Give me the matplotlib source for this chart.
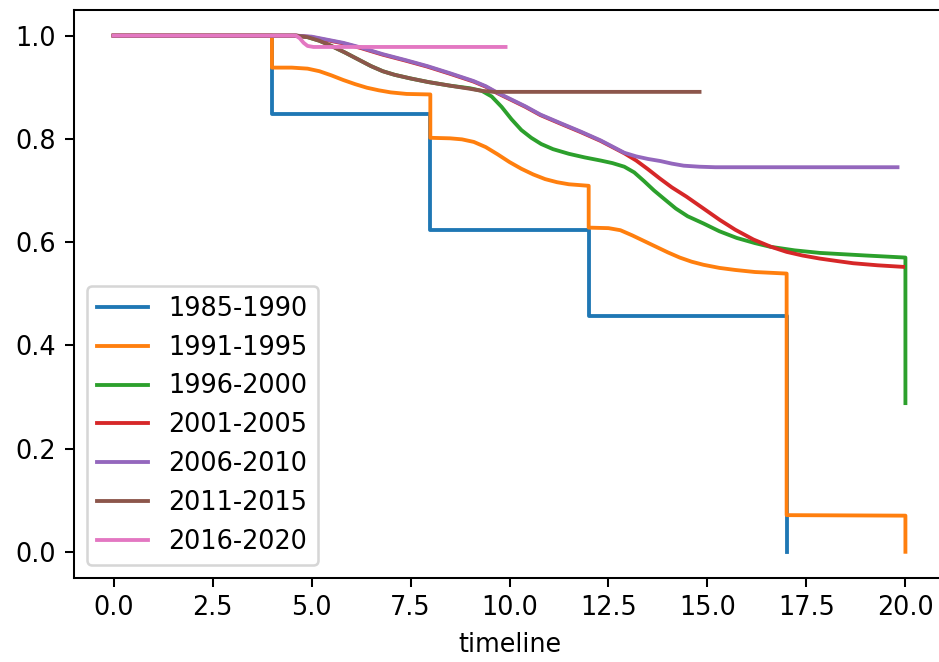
#! usr/bin/env python3
# coding:utf-8

import matplotlib
matplotlib.use('Agg')
import matplotlib.pyplot as plt

labels = ['1985-1990', '1991-1995', '1996-2000', '2001-2005',
          '2006-2010', '2011-2015', '2016-2020']

t_1985 = [0, 4, 4, 8, 8, 12, 12, 17, 17]
s_1985 = [1.0, 1.0, 0.848, 0.848, 0.623, 0.623, 0.456, 0.456, 0.0]

t_1991 = [0, 4, 4, 4.5, 4.9, 5.2, 5.5, 5.8, 6.1, 6.4, 6.7, 7.0, 7.4, 8.0,
          8.0, 8.5, 8.8, 9.1, 9.4, 9.7, 10.0, 10.3, 10.6, 10.9, 11.2, 11.5,
          12.0, 12.0, 12.5, 12.8, 13.1, 13.4, 13.7, 14.0, 14.3, 14.6, 14.9,
          15.3, 15.7, 16.2, 17.0, 17.0, 20.0, 20.0]
s_1991 = [1.0, 1.0, 0.938, 0.938, 0.936, 0.931, 0.923, 0.914, 0.906, 0.899,
          0.894, 0.890, 0.887, 0.886,
          0.802, 0.801, 0.799, 0.794, 0.784, 0.770, 0.755, 0.742, 0.731,
          0.722, 0.716, 0.712, 0.709,
          0.628, 0.627, 0.623, 0.613, 0.602, 0.591, 0.580, 0.570, 0.562,
          0.556, 0.550, 0.546, 0.542, 0.539, 0.071, 0.070, 0.0]

t_1996 = [0, 4.6, 4.9, 5.2, 5.5, 5.85, 6.2, 6.5, 6.8, 7.1, 7.5, 7.95, 8.5,
          9.0, 9.3, 9.55, 9.8, 10.05, 10.3, 10.55, 10.8, 11.1, 11.5, 11.9,
          12.3, 12.6, 12.9, 13.15, 13.4, 13.65, 13.9, 14.2, 14.5, 14.9, 15.3,
          15.74, 16.2, 16.58, 17.2, 17.84, 19.0, 20.0, 20.0]
s_1996 = [1.0, 1.0, 0.997, 0.990, 0.980, 0.967, 0.953, 0.941, 0.931, 0.924,
          0.917, 0.910, 0.903, 0.898, 0.893, 0.882, 0.862, 0.838, 0.817,
          0.802, 0.790, 0.780, 0.771, 0.764, 0.758, 0.753, 0.746, 0.735,
          0.718, 0.700, 0.684, 0.665, 0.650, 0.636, 0.621, 0.608, 0.598,
          0.591, 0.584, 0.579, 0.574, 0.570, 0.288]

t_2001 = [0, 4.6, 5.0, 5.4, 5.8, 6.24, 6.8, 7.4, 7.92, 8.5, 9.09, 9.4, 9.68,
          10.0, 10.4, 10.78, 11.3, 11.8, 12.3, 12.6, 12.9, 13.2, 13.5, 13.8,
          14.1, 14.47, 14.9, 15.31, 15.7, 16.16, 16.6, 17.0, 17.4, 17.84,
          18.3, 18.68, 19.3, 19.94]
s_2001 = [1.0, 1.0, 0.997, 0.991, 0.985, 0.976, 0.963, 0.951, 0.940, 0.926,
          0.911, 0.901, 0.889, 0.877, 0.862, 0.846, 0.829, 0.813, 0.796,
          0.784, 0.772, 0.758, 0.741, 0.723, 0.706, 0.688, 0.665, 0.643,
          0.624, 0.605, 0.591, 0.581, 0.574, 0.568, 0.563, 0.559, 0.555,
          0.552]

t_2006 = [0, 4.6, 5.0, 5.4, 5.8, 6.24, 6.8, 7.4, 7.92, 8.5, 9.09, 9.4, 9.68,
          10.0, 10.4, 10.78, 11.3, 11.8, 12.3, 12.6, 12.9, 13.2, 13.5, 13.81,
          14.1, 14.4, 14.8, 15.2, 19.8]
s_2006 = [1.0, 1.0, 0.998, 0.992, 0.986, 0.977, 0.964, 0.952, 0.941, 0.927,
          0.912, 0.902, 0.890, 0.878, 0.863, 0.847, 0.830, 0.814, 0.797,
          0.785, 0.773, 0.766, 0.761, 0.757, 0.752, 0.748, 0.746, 0.745,
          0.745]

t_2011 = [0, 4.6, 4.9, 5.2, 5.5, 5.85, 6.2, 6.5, 6.8, 7.1, 7.5, 7.95, 8.5,
          9.0, 9.3, 9.6, 14.8]
s_2011 = [1.0, 1.0, 0.997, 0.990, 0.980, 0.967, 0.953, 0.941, 0.931, 0.924,
          0.917, 0.910, 0.903, 0.897, 0.893, 0.891, 0.891]

t_2016 = [0, 4.6, 4.7, 4.8, 4.9, 5.05, 9.9]
s_2016 = [1.0, 1.0, 0.995, 0.986, 0.980, 0.978, 0.978]

timelines = [t_1985, t_1991, t_1996, t_2001, t_2006, t_2011, t_2016]
survival = [s_1985, s_1991, s_1996, s_2001, s_2006, s_2011, s_2016]

# scaled-up default figure, axes run slightly past the right edge
fig = plt.figure(figsize=(939 / 184, 662 / 184), dpi=184)
ax = fig.add_axes([0.0788, 0.1275, 0.9276, 0.8577])

for t, s, label in zip(timelines, survival, labels):
    ax.plot(t, s, label=label)

ax.set_xlabel('timeline')
ax.legend(loc='lower left')

fig.savefig('out.png', dpi=184)
